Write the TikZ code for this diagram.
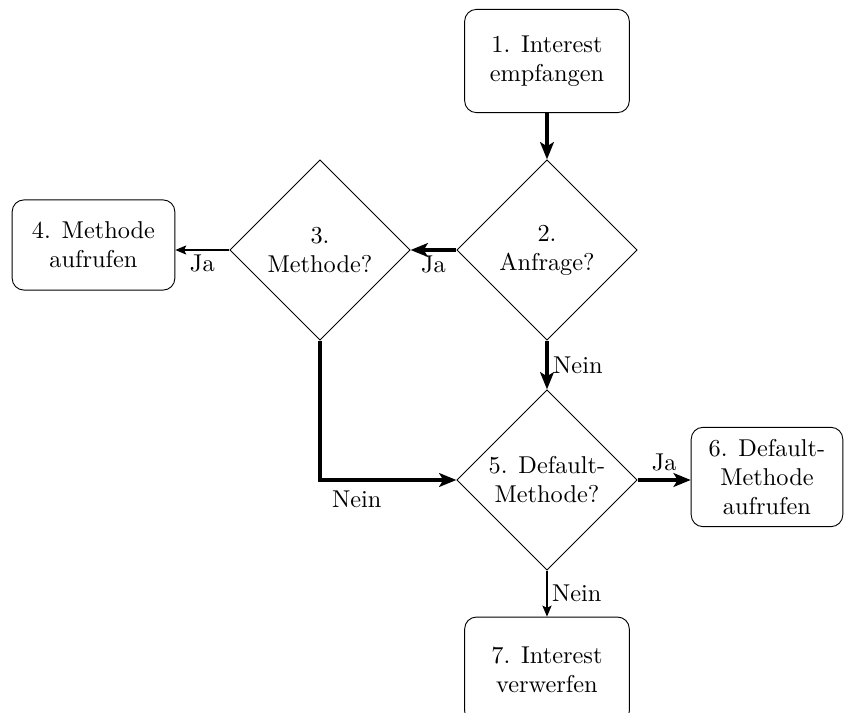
\documentclass[tikz,border=0pt]{standalone}
\usetikzlibrary{shapes.geometric,arrows.meta}
\begin{document}
\begin{tikzpicture}[x=0.0153cm,y=-0.0153cm,
  every node/.style={font=\fontsize{10.6}{12.6}\selectfont},
  stepbox/.style={draw,rounded corners=0.18cm,thin,align=center,inner sep=2pt},
  decide/.style={draw,diamond,thin,align=center,inner sep=0pt,
    minimum width=2.76cm,minimum height=2.76cm},
  main/.style={line width=1.4pt,-{Stealth[length=7.5pt,width=6pt,inset=1.8pt]}},
  side/.style={line width=0.5pt,-{Stealth[length=4.8pt,width=4pt,inset=1pt]}},
  lbl/.style={inner sep=1pt}]
\useasboundingbox (0,0) rectangle (845,713);

% process steps
\node[stepbox,minimum width=2.52cm,minimum height=1.58cm] (s1) at (547,61) {1. Interest\\empfangen};
\node[stepbox,minimum width=2.49cm,minimum height=1.38cm] (s4) at (93.5,245) {4. Methode\\aufrufen};
\node[stepbox,minimum width=2.32cm,minimum height=1.52cm] (s6) at (767,477) {6. Default-\\Methode\\aufrufen};
\node[stepbox,minimum width=2.52cm,minimum height=1.62cm] (s7) at (547,670) {7. Interest\\verwerfen};

% decisions
\node[decide] (d2) at (547,250) {2.\\Anfrage?};
\node[decide] (d3) at (320,250) {3.\\Methode?};
\node[decide] (d5) at (547,480) {5. Default-\\Methode?};

% connectors
\draw[main] (s1) -- (d2);
\draw[main] (d2.west) -- node[lbl,below=1pt] (l23) {Ja} (d3.east);
\draw[side] (d3.west) -- node[lbl,below=1pt] (l34) {Ja} (s4.east |- d3.west);
\draw[main] (d2.south) -- node[lbl,right=1pt] (l25) {Nein} (d5.north);
\draw[main] (d3.south) |- node[lbl,below=3pt,pos=0.635] (l35) {Nein} (d5.west);
\draw[main] (d5.east) -- node[lbl,above=2pt] (l56) {Ja} (s6.west |- d5.east);
\draw[side] (d5.south) -- node[lbl,right=1pt] (l57) {Nein} (s7.north);
\end{tikzpicture}
\end{document}
